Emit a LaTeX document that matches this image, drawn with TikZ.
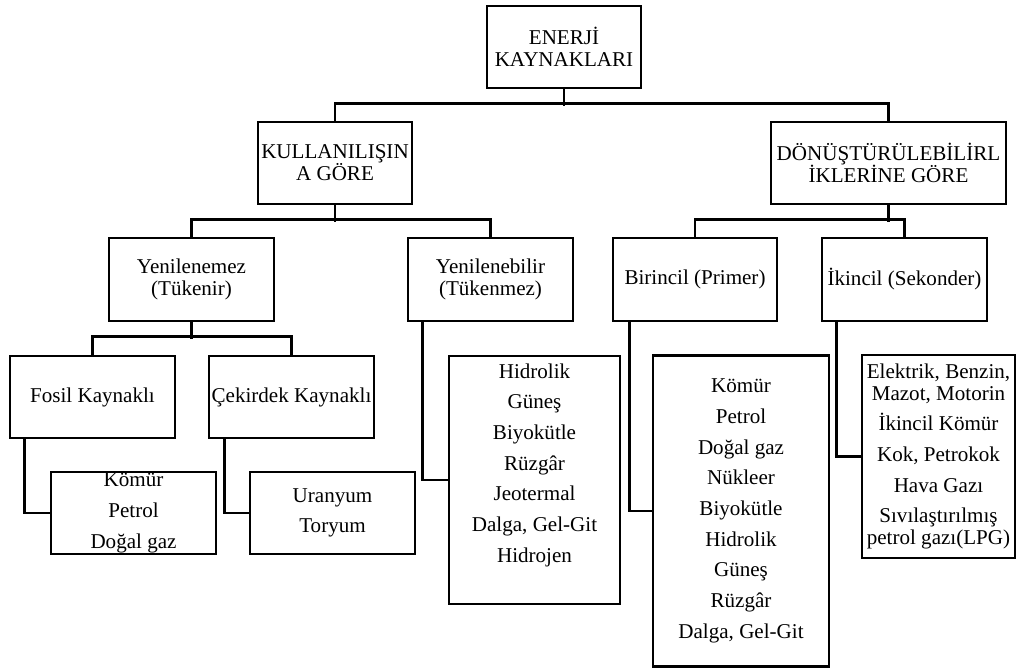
\documentclass[tikz,border=0pt]{standalone}
\usepackage{fontspec}
\setmainfont{Liberation Serif}
\usetikzlibrary{calc}
\begin{document}
\begin{tikzpicture}[x=0.75pt,y=-0.75pt,
  every node/.style={font=\fontsize{15.8}{16.5}\selectfont},
  box/.style={draw, line width=2.1pt, inner sep=0pt, align=center},
  sz/.style 2 args={minimum width=#1*0.75pt, minimum height=#2*0.75pt},
  conn/.style={line width=2.1pt},
  txt/.style={align=center, inner sep=0pt}]
\fill[white] (0,0) rectangle (1017,668);
\useasboundingbox (0,0) rectangle (1017,668);
% level 1-2
\node[box, sz={154}{82}] (root) at (564,47) {ENERJİ\\KAYNAKLARI};
\node[box, sz={154}{82}] (kul) at (335,163) {KULLANILIŞIN\\A GÖRE};
\node[box, sz={235}{82}] (don) at (888.5,163) {DÖNÜŞTÜRÜLEBİLİRL\\İKLERİNE GÖRE};
% level 3
\node[box, sz={165}{83}] (yen) at (191.5,279.5) {Yenilenemez\\(Tükenir)};
\node[box, sz={165}{83}] (yeb) at (490.5,279.5) {Yenilenebilir\\(Tükenmez)};
\node[box, sz={164}{83}] (bir) at (695,279.5) {Birincil (Primer)};
\node[box, sz={165}{83}] (iki) at (904.5,279.5) {İkincil (Sekonder)};
% level 4
\node[box, sz={165}{82}] (fos) at (92.5,397) {Fosil Kaynaklı};
\node[box, sz={165}{82}] (cek) at (291.5,397) {Çekirdek Kaynaklı};
% lists
\node[box, sz={165}{82}] (fl) at (133.5,513) {Kömür\\[6.5pt]Petrol\\[6.5pt]Doğal gaz};
\node[box, sz={165}{82}] (ul) at (332.5,513) {Uranyum\\[6.5pt]Toryum};
\node[box, sz={171}{248}] (hl) at (534.5,480) {};
\node[txt] (hlt) at (534.5,465) {Hidrolik\\[6.5pt]Güneş\\[6.5pt]Biyokütle\\[6.5pt]Rüzgâr\\[6.5pt]Jeotermal\\[6.5pt]Dalga, Gel-Git\\[6.5pt]Hidrojen};
\node[box, sz={176}{311}] (bl) at (741,511) {Kömür\\[6.5pt]Petrol\\[6.5pt]Doğal gaz\\[6.5pt]Nükleer\\[6.5pt]Biyokütle\\[6.5pt]Hidrolik\\[6.5pt]Güneş\\[6.5pt]Rüzgâr\\[6.5pt]Dalga, Gel-Git};
\node[box, sz={153}{203}] (el) at (938.5,456.5) {Elektrik, Benzin,\\Mazot, Motorin\\[6.5pt]İkincil Kömür\\[6.5pt]Kok, Petrokok\\[6.5pt]Hava Gazı\\[6.5pt]Sıvılaştırılmış\\petrol gazı(LPG)};
% connectors
\draw[conn] (root.south) -- ++(0,17);
\draw[conn] (kul.north) -- ++(0,-17) -| (don.north);
\draw[conn] (kul.south) -- ++(0,17);
\draw[conn] (yen.north) -- ++(0,-17) -| (yeb.north);
\draw[conn] (don.south) -- ++(0,17);
\draw[conn] (bir.north) -- ++(0,-17) -| (iki.north);
\draw[conn] (yen.south) -- ++(0,17);
\draw[conn] (fos.north) -- ++(0,-18) -| (cek.north);
\draw[conn] ($(fos.south west)+(16,0)$) |- (fl.west);
\draw[conn] ($(cek.south west)+(17,0)$) |- (ul.west);
\draw[conn] ($(yeb.south west)+(16,0)$) |- (hl.west);
\draw[conn] ($(bir.south west)+(18,0)$) |- (bl.west);
\draw[conn] ($(iki.south west)+(16,0)$) |- (el.west);
\end{tikzpicture}
\end{document}
